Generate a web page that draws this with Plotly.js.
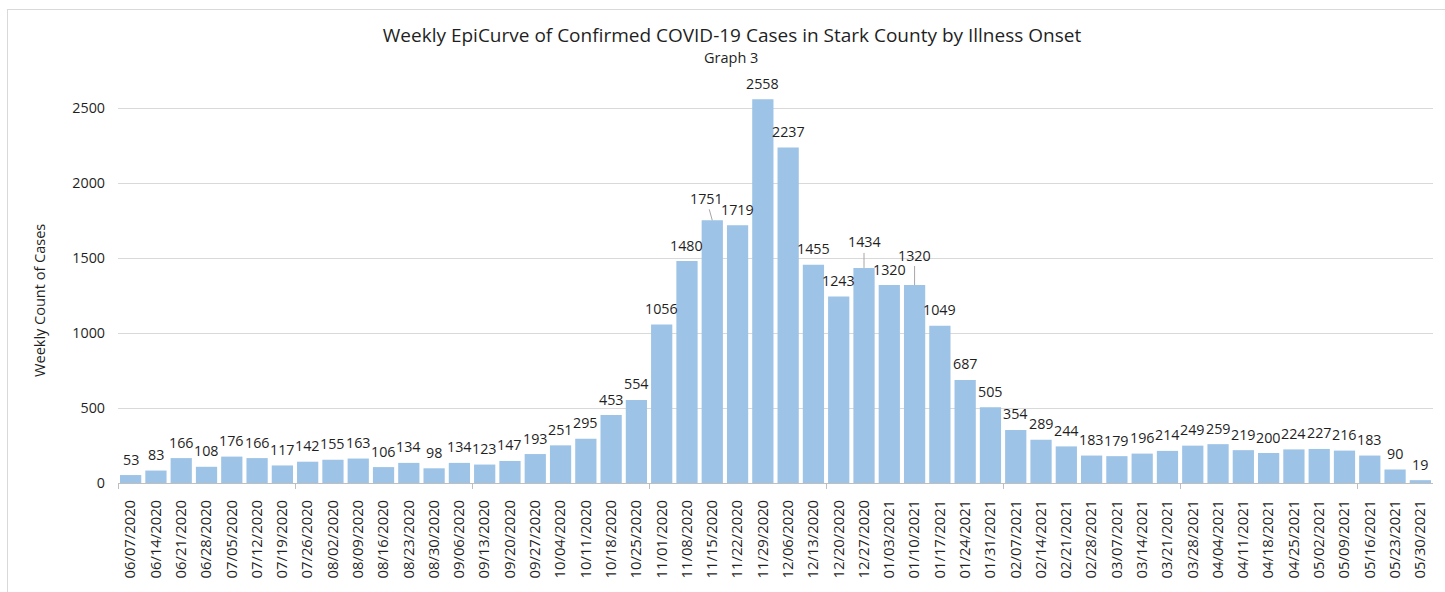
<!DOCTYPE html>
<html>
<head>
<meta charset="utf-8">
<script src="https://cdn.plot.ly/plotly-3.0.1.min.js"></script>
<style>
  html, body { margin: 0; padding: 0; background: #fff; }
  #wrap { position: relative; width: 1445px; height: 592px; }
  #chart { position: absolute; left: 0; top: 0; width: 1445px; height: 592px; }
  #frame { position: absolute; left: 7px; top: 9px; width: 1450px; height: 600px;
           border-top: 1.5px solid #d9d9d9; border-left: 1.5px solid #d9d9d9; pointer-events: none; }
</style>
</head>
<body>
<div id="wrap">
  <div id="chart"></div>
  <div id="frame"></div>
</div>
<script>
// ---- data ----
var weeks = [
  "06/07/2020","06/14/2020","06/21/2020","06/28/2020","07/05/2020","07/12/2020","07/19/2020",
  "07/26/2020","08/02/2020","08/09/2020","08/16/2020","08/23/2020","08/30/2020","09/06/2020",
  "09/13/2020","09/20/2020","09/27/2020","10/04/2020","10/11/2020","10/18/2020","10/25/2020",
  "11/01/2020","11/08/2020","11/15/2020","11/22/2020","11/29/2020","12/06/2020","12/13/2020",
  "12/20/2020","12/27/2020","01/03/2021","01/10/2021","01/17/2021","01/24/2021","01/31/2021",
  "02/07/2021","02/14/2021","02/21/2021","02/28/2021","03/07/2021","03/14/2021","03/21/2021",
  "03/28/2021","04/04/2021","04/11/2021","04/18/2021","04/25/2021","05/02/2021","05/09/2021",
  "05/16/2021","05/23/2021","05/30/2021"
];
var cases = [
  53, 83, 166, 108, 176, 166, 117,
  142, 155, 163, 106, 134, 98, 134,
  123, 147, 193, 251, 295, 453, 554,
  1056, 1480, 1751, 1719, 2558, 2237, 1455,
  1243, 1434, 1320, 1320, 1049, 687, 505,
  354, 289, 244, 183, 179, 196, 214,
  249, 259, 219, 200, 224, 227, 216,
  183, 90, 19
];
var yTicks = [0, 500, 1000, 1500, 2000, 2500];

// ---- styling / layout helpers ----
var FONT = "Open Sans, Liberation Sans, sans-serif";
var TXT = "#1f1f1f";
var leaders = { 23: [-6, -22], 29: [0, -26], 31: [0, -30] };

var annotations = [];
for (var i = 0; i < weeks.length; i++) {
  var a = {
    x: weeks[i], y: cases[i], xref: "x", yref: "y",
    text: String(cases[i]),
    font: { family: FONT, size: 14.3, color: TXT }
  };
  if (leaders[i]) {
    a.showarrow = true; a.arrowhead = 0; a.arrowwidth = 1; a.arrowcolor = "#a6a6a6";
    a.ax = leaders[i][0]; a.ay = leaders[i][1]; a.standoff = 0;
  } else {
    a.showarrow = false; a.yanchor = "middle"; a.yshift = 16;
  }
  annotations.push(a);
}
annotations.push({
  text: "Graph 3", xref: "paper", yref: "paper", x: 0.466, y: 1.092,
  showarrow: false, xanchor: "center", yanchor: "middle",
  font: { family: FONT, size: 14.5, color: TXT }
});
annotations.push({
  text: "Weekly Count of Cases", xref: "paper", yref: "paper", x: -0.0593, y: 0.467,
  textangle: -90, showarrow: false, xanchor: "center", yanchor: "middle",
  font: { family: FONT, size: 14.5, color: TXT }
});

var trace = {
  type: "bar", x: weeks, y: cases,
  marker: { color: "#9DC3E6", line: { width: 0 } },
  hoverinfo: "x+y"
};

var layout = {
  width: 1445, height: 592,
  margin: { l: 118, r: 12, t: 93, b: 109 },
  paper_bgcolor: "rgba(0,0,0,0)", plot_bgcolor: "rgba(0,0,0,0)",
  showlegend: false,
  bargap: 0.16,
  title: {
    text: "Weekly EpiCurve of Confirmed COVID-19 Cases in Stark County by Illness Onset",
    x: 732 / 1445, xref: "container", xanchor: "center",
    y: 1 - 35 / 592, yref: "container", yanchor: "middle",
    font: { family: FONT, size: 19, color: TXT }
  },
  xaxis: {
    type: "category", tickangle: -90,
    ticks: "outside", ticklen: 10, tickcolor: "rgba(0,0,0,0)",
    showline: true, linecolor: "#bfbfbf", linewidth: 1,
    showgrid: false,
    tickfont: { family: FONT, size: 14.8, color: TXT }
  },
  xaxis2: {
    overlaying: "x", anchor: "y", side: "bottom",
    range: [-0.5, 51.5],
    tickmode: "array", tickvals: [-0.5, 6.5, 13.5, 20.5, 27.5, 34.5, 41.5, 48.5],
    ticks: "outside", ticklen: 5, tickcolor: "#bfbfbf", tickwidth: 1,
    showticklabels: false, showgrid: false, zeroline: false, showline: false
  },
  yaxis: {
    range: [0, 2600],
    tickmode: "array", tickvals: yTicks,
    showgrid: true, gridcolor: "#d9d9d9", gridwidth: 1,
    zeroline: false, showline: false, ticks: "",
    ticklabelstandoff: 12,
    tickfont: { family: FONT, size: 14.3, color: TXT }
  },
  annotations: annotations
};

Plotly.newPlot("chart", [trace, { type: "scatter", x: [], y: [], xaxis: "x2", yaxis: "y", hoverinfo: "skip" }], layout, { displayModeBar: false, staticPlot: true });
</script>
</body>
</html>
